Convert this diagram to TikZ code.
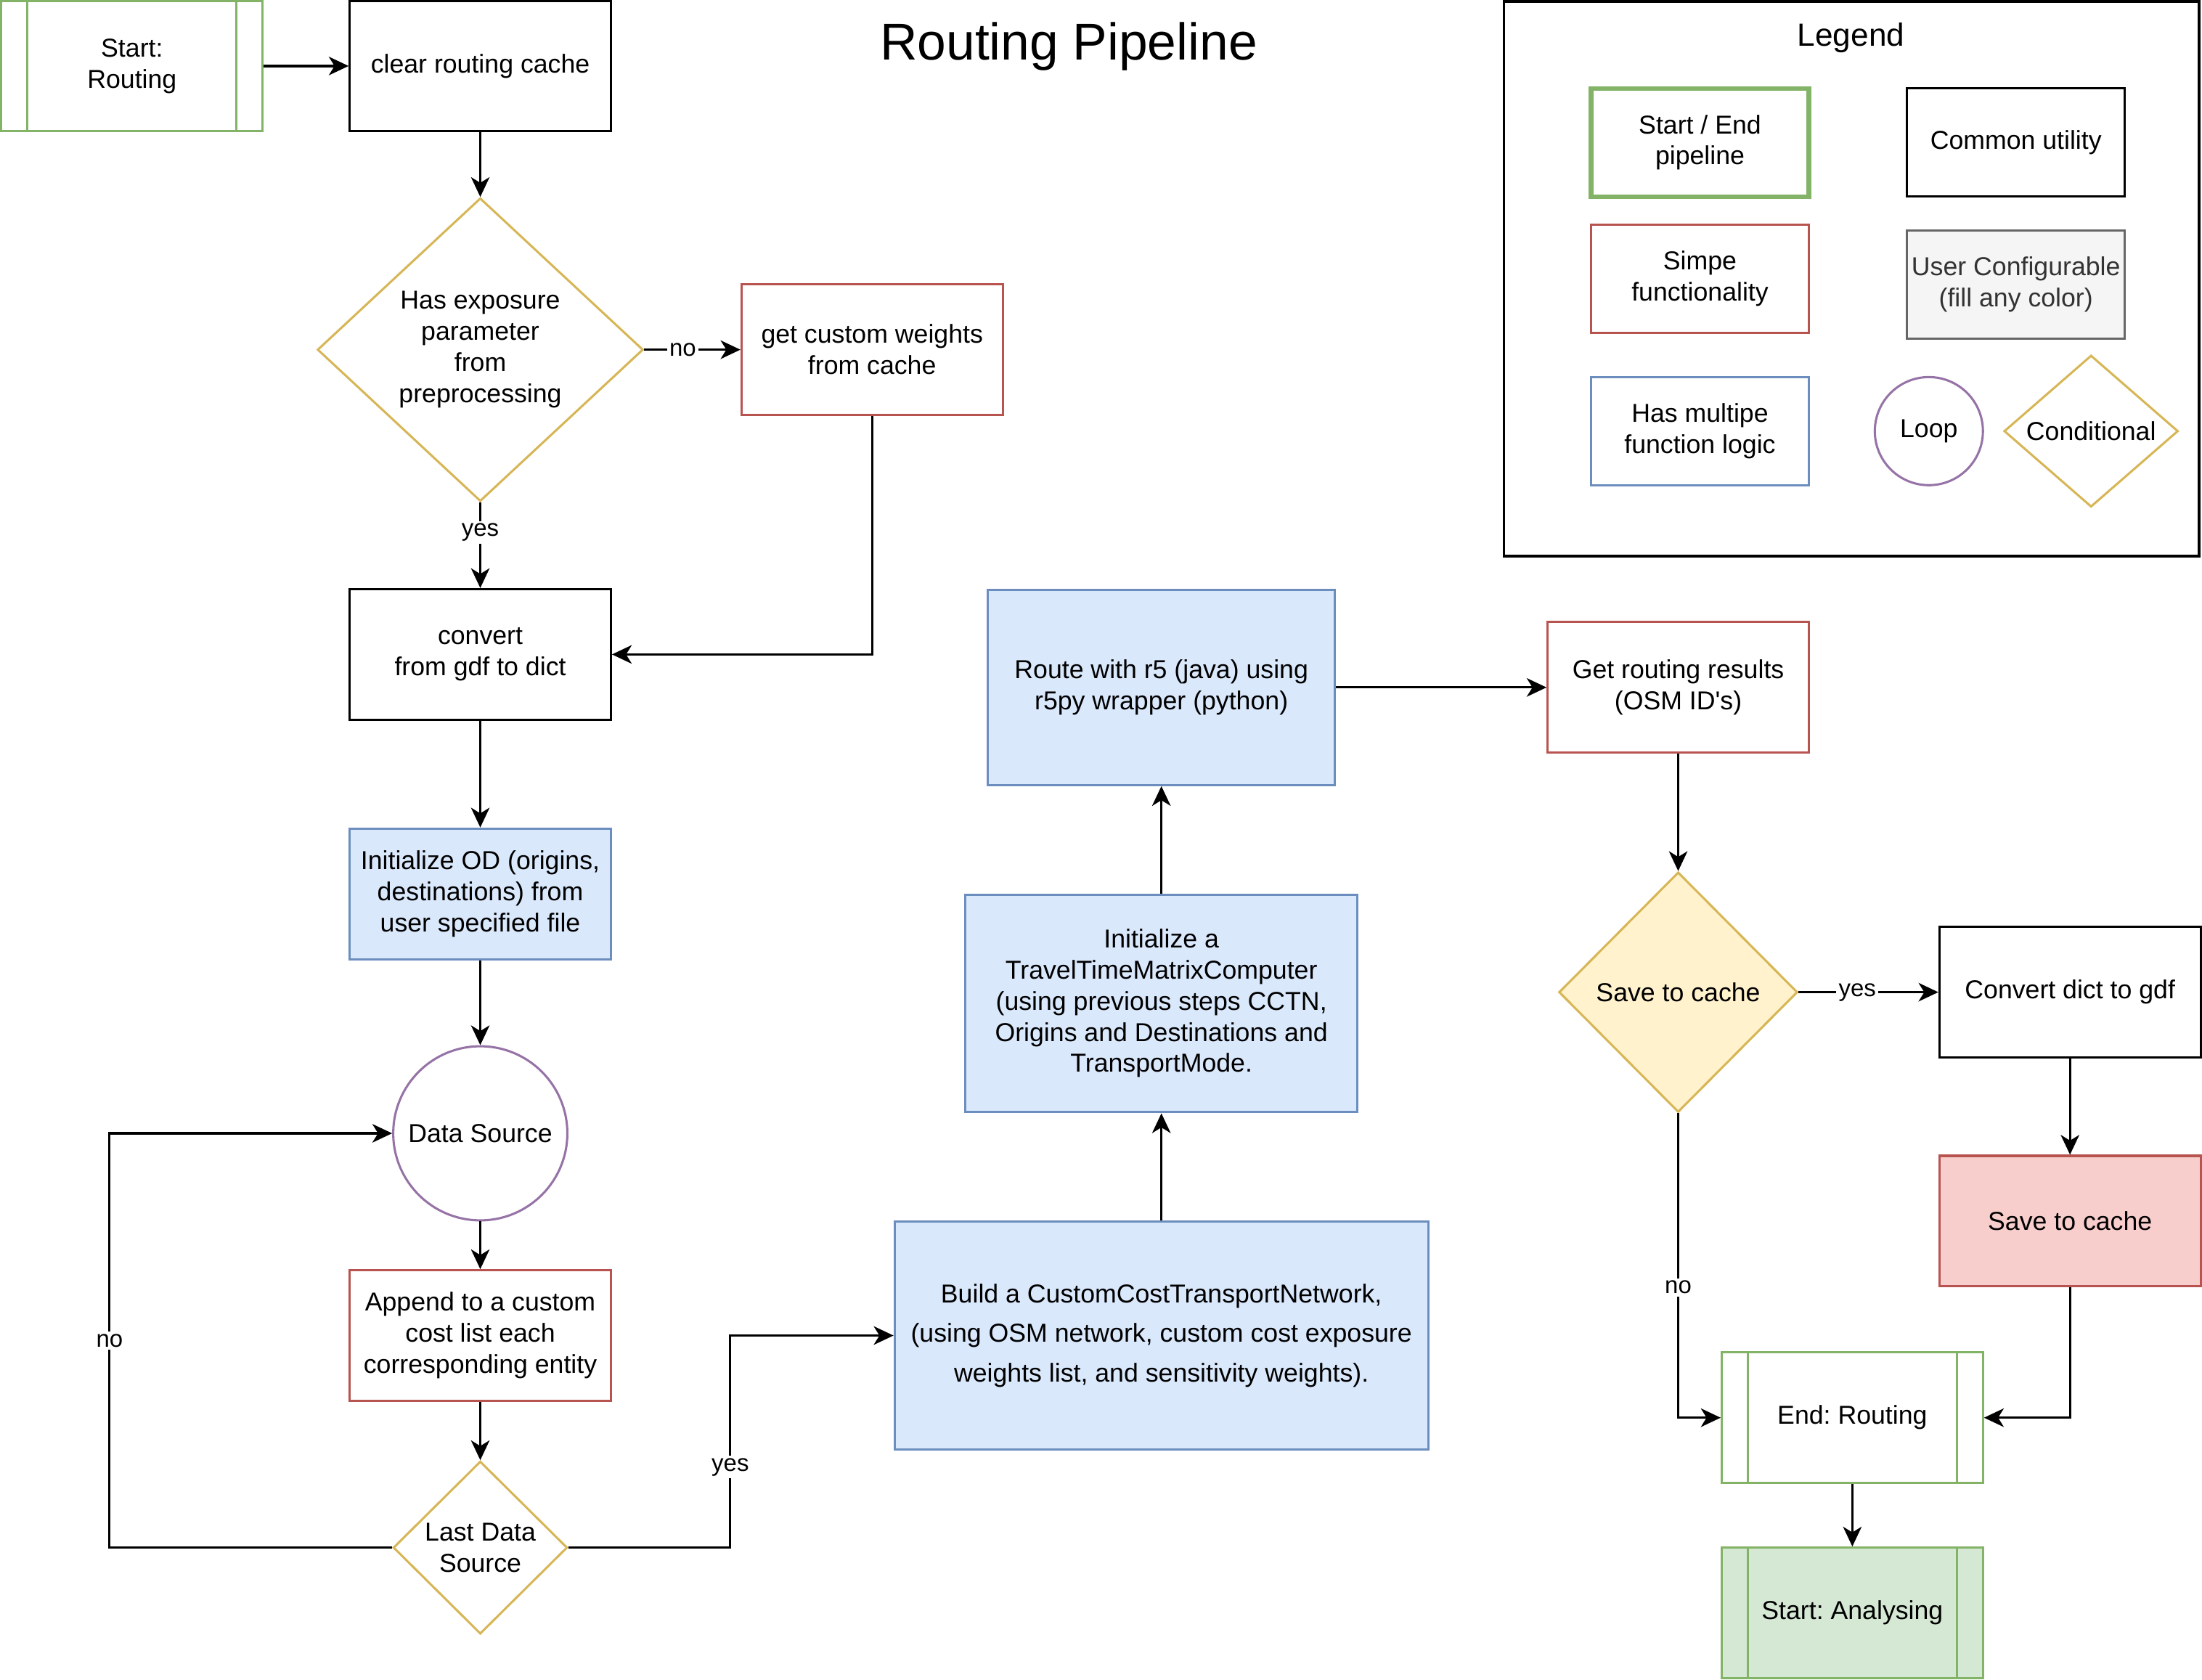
\documentclass[tikz,border=0pt]{standalone}
\usepackage{fontspec}
\setmainfont{Liberation Sans}
\frenchspacing
\usetikzlibrary{shapes.geometric, arrows.meta, calc}
\definecolor{cgreen}{HTML}{82B366}
\definecolor{cgreenfill}{HTML}{D5E8D4}
\definecolor{cred}{HTML}{B85450}
\definecolor{credfill}{HTML}{F8CECC}
\definecolor{cblue}{HTML}{6C8EBF}
\definecolor{cbluefill}{HTML}{DAE8FC}
\definecolor{cgold}{HTML}{D6B656}
\definecolor{cgoldfill}{HTML}{FFF2CC}
\definecolor{cpurple}{HTML}{9673A6}
\definecolor{cgreyfill}{HTML}{F5F5F5}
\definecolor{cgrey}{HTML}{666666}
\definecolor{cgreytext}{HTML}{333333}
\begin{document}
\begin{tikzpicture}[x=0.02cm, y=-0.02cm,
  every node/.style={font=\fontsize{10.5}{12.6}\selectfont, align=center},
  box/.style={draw, line width=0.9pt, minimum width=3.72cm, minimum height=1.86cm, inner sep=2pt},
  utilbox/.style={box, draw=black},
  simplebox/.style={box, draw=cred},
  multibox/.style={box, draw=cblue, fill=cbluefill},
  procbox/.style={box, draw=cgreen, path picture={
     \draw[cgreen, line width=0.9pt] ([xshift=0.37cm]path picture bounding box.north west) -- ([xshift=0.37cm]path picture bounding box.south west);
     \draw[cgreen, line width=0.9pt] ([xshift=-0.37cm]path picture bounding box.north east) -- ([xshift=-0.37cm]path picture bounding box.south east);}},
  legbox/.style={box, minimum width=3.1cm, minimum height=1.54cm, inner sep=0pt},
  cond/.style={diamond, draw=cgold, line width=0.9pt, inner sep=0pt},
  loopcirc/.style={circle, draw=cpurple, line width=0.9pt, inner sep=0pt},
  arr/.style={draw, line width=0.95pt, -{Stealth[length=8pt, width=7.5pt, inset=2.3pt]}},
  lbl/.style={fill=white, inner sep=1pt, font=\fontsize{9.7}{11}\selectfont},
]
\useasboundingbox (0,0) rectangle (1568,1196);

% title
\node[font=\fontsize{21}{25}\selectfont] (title) at (761,33) {Routing Pipeline};

% left column
\node[procbox] (start) at (94,47) {Start:\\Routing};
\node[utilbox] (clear) at (342,47) {clear routing cache};
\node[cond, minimum width=4.64cm, minimum height=4.32cm,
      label={center:{Has exposure\\parameter\\from\\preprocessing}}] (hasexp) at (342,249) {};
\node[simplebox] (getw) at (621,249) {get custom weights\\from cache};
\node[utilbox] (conv) at (342,466) {convert\\from gdf to dict};
\node[multibox] (initod) at (342,636.5) {Initialize OD (origins,\\destinations) from\\user specified file};
\node[loopcirc, minimum size=2.48cm] (ds) at (342,807) {Data Source};
\node[simplebox] (append) at (342,951) {Append to a custom\\cost list each\\corresponding entity};
\node[cond, minimum width=2.48cm, minimum height=2.46cm,
      label={center:{Last Data\\Source}}] (last) at (342,1102) {};

% middle column
\node[multibox, minimum width=7.6cm, minimum height=3.24cm, font=\fontsize{10.5}{16}\selectfont] (build) at (827,951)
  {Build a CustomCostTransportNetwork,\\(using OSM network, custom cost exposure\\weights list, and sensitivity weights).};
\node[multibox, minimum width=5.58cm, minimum height=3.1cm] (ttmc) at (827,714.5)
  {Initialize a\\TravelTimeMatrixComputer\\(using previous steps CCTN,\\Origins and Destinations and\\TransportMode.};
\node[multibox, minimum width=4.94cm, minimum height=2.78cm] (route) at (827,489.5)
  {Route with r5 (java) using\\r5py wrapper (python)};

% right column
\node[simplebox] (getres) at (1195,489.5) {Get routing results\\(OSM ID\textquotesingle s)};
\node[cond, fill=cgoldfill, minimum width=3.4cm, minimum height=3.42cm,
      label={center:Save to cache}] (savec) at (1195,706.5) {};
\node[utilbox] (dict2gdf) at (1474,706.5) {Convert dict to gdf};
\node[simplebox, fill=credfill] (saveto) at (1474,869.5) {Save to cache};
\node[procbox] (endr) at (1319,1009.5) {End: Routing};
\node[procbox, fill=cgreenfill] (startan) at (1319,1148.5) {Start: Analysing};

% legend
\node[draw, line width=1pt, minimum width=9.9cm, minimum height=7.9cm] (legend) at (1318.5,198.5) {};
\node[font=\fontsize{13}{15}\selectfont] (legtitle) at (1318,27) {Legend};
\node[legbox, draw=cgreen, line width=1.9pt] (lgse) at (1210.5,101.5) {Start / End\\pipeline};
\node[legbox, draw=black] (lgcu) at (1435.5,101.5) {Common utility};
\node[legbox, draw=cred] (lgsf) at (1210.5,198.5) {Simpe\\functionality};
\node[legbox, draw=cgrey, fill=cgreyfill, text=cgreytext] (lguc) at (1435.5,202.5) {User Configurable\\(fill any color)};
\node[legbox, draw=cblue] (lgmf) at (1210.5,307) {Has multipe\\function logic};
\node[loopcirc, minimum size=1.54cm] (lgloop) at (1373.5,307) {Loop};
\node[cond, minimum width=2.48cm, minimum height=2.16cm, label={center:Conditional}] (lgcond) at (1489,307) {};

% connectors
\draw[arr] (start) -- (clear);
\draw[arr] (clear) -- (hasexp);
\draw[arr] (hasexp) -- node[lbl, pos=0.4] {no} (getw);
\draw[arr] (hasexp) -- node[lbl, pos=0.35] {yes} (conv);
\draw[arr] (getw.south) |- (conv.east);
\draw[arr] (conv) -- (initod);
\draw[arr] (initod) -- (ds);
\draw[arr] (ds) -- (append);
\draw[arr] (append) -- (last);
\coordinate (cnoback) at (78,1102);
\draw[arr] (last.west) -- (cnoback) |- node[lbl, pos=0.25] {no} (ds.west);
\coordinate (cyes) at (520,1102);
\draw[arr] (last.east) -- (cyes) |- node[lbl, pos=0.19] {yes} (build.west);
\draw[arr] (build) -- (ttmc);
\draw[arr] (ttmc) -- (route);
\draw[arr] (route) -- (getres);
\draw[arr] (getres) -- (savec);
\draw[arr] (savec) -- node[lbl, pos=0.42] {yes} (dict2gdf);
\draw[arr] (dict2gdf) -- (saveto);
\draw[arr] (savec.south) |- node[lbl, pos=0.286] {no} (endr.west);
\draw[arr] (saveto.south) |- (endr.east);
\draw[arr] (endr) -- (startan);
\end{tikzpicture}
\end{document}
